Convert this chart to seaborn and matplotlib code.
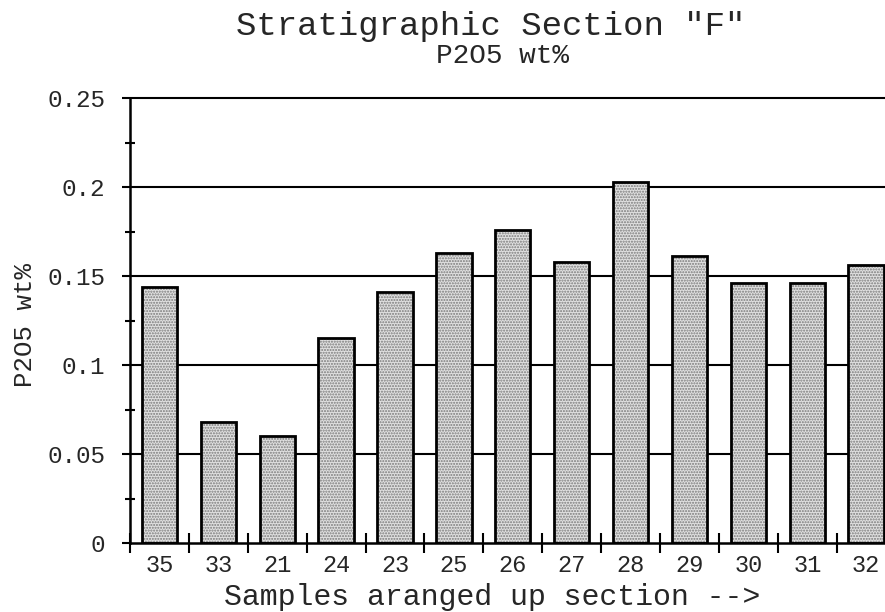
"""Stratigraphic section F - P2O5 bar chart."""
import matplotlib
matplotlib.use("Agg")
import matplotlib.pyplot as plt
import numpy as np
import pandas as pd
import seaborn as sns

# samples in stratigraphic order (bottom -> top)
samples = ["35", "33", "21", "24", "23", "25", "26", "27", "28", "29", "30", "31", "32"]
p2o5 = [0.144, 0.068, 0.060, 0.115, 0.141, 0.163, 0.176, 0.158, 0.203, 0.161, 0.146, 0.146, 0.156]
yticks = [0, 0.05, 0.1, 0.15, 0.2, 0.25]
ytick_labels = ["0", "0.05", "0.1", "0.15", "0.2", "0.25"]

df = pd.DataFrame({"sample": samples, "p2o5": p2o5})

sns.set_theme(style="white")
plt.rcParams["font.family"] = ["Liberation Mono", "DejaVu Sans Mono"]
plt.rcParams["hatch.color"] = "#7a7a7a"
plt.rcParams["hatch.linewidth"] = 1.0

fig = plt.figure(figsize=(8.85, 6.12), dpi=100)
ax = fig.add_axes([0.1469, 0.1127, 0.8531, 0.7271])

# horizontal rules behind the bars
for y in yticks[1:]:
    ax.axhline(y, color="black", lw=1.5, zorder=0.5, clip_on=False)

# dotted fill, then black outline on top
sns.barplot(data=df, x="sample", y="p2o5", order=samples, color="#e0e0e0",
            width=0.6, linewidth=0, saturation=1, ax=ax, zorder=2)
for p in ax.patches:
    p.set_hatch("......")
    p.set_edgecolor("#7a7a7a")
    p.set_linewidth(0)
sns.barplot(data=df, x="sample", y="p2o5", order=samples, fill=False,
            edgecolor="black", width=0.6, linewidth=2.0, ax=ax, zorder=3)

ax.set_xlim(-0.5, 12.32)
ax.set_ylim(0, 0.25)

ax.set_yticks(yticks)
ax.set_yticklabels(ytick_labels)
ax.set_yticks(np.arange(0.025, 0.25, 0.05), minor=True)
ax.tick_params(axis="y", which="major", direction="out", length=6, width=1.5,
               labelsize=17.5, pad=12, color="black", left=True)
ax.tick_params(axis="y", which="minor", direction="inout", length=7, width=1.5,
               color="black", left=True)

ax.set_xticks(range(len(samples)))
ax.set_xticks(np.arange(-0.5, len(samples) - 1, 1.0), minor=True)
ax.tick_params(axis="x", which="major", length=0, labelsize=17, pad=8)
ax.tick_params(axis="x", which="minor", direction="inout", length=14, width=1.5,
               color="black", bottom=True)

for side in ["top", "right"]:
    ax.spines[side].set_visible(False)
for side in ["left", "bottom"]:
    ax.spines[side].set_color("black")
    ax.spines[side].set_linewidth(1.8)
    ax.spines[side].set_zorder(4)

ax.set_xlabel("")
ax.set_ylabel("")
fig.text(492 / 885, 1 - 605 / 612, "Samples aranged up section -->", fontsize=21.5,
         ha="center", va="baseline")
fig.text(25 / 885, 1 - 325 / 612, "P2O5 wt%", rotation=90, fontsize=18.5,
         ha="center", va="center")

fig.text(491 / 885, 1 - 35 / 612, 'Stratigraphic Section "F"', fontsize=24.5,
         ha="center", va="baseline")
fig.text(503 / 885, 1 - 63 / 612, "P2O5 wt%", fontsize=20, ha="center", va="baseline")

fig.savefig("out.png", dpi=100, facecolor="white")
plt.close(fig)
